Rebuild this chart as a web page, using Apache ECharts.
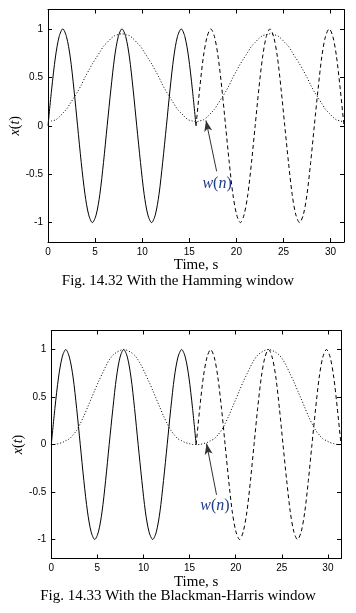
<!DOCTYPE html>
<html>
<head>
<meta charset="utf-8">
<script src="https://cdn.jsdelivr.net/npm/echarts@6/dist/echarts.min.js"></script>
<style>
html,body{margin:0;padding:0;background:#fff;}
#chart{width:356px;height:613px;}
</style>
</head>
<body>
<div id="chart"></div>
<script>
// time samples (s)
const tFirst = [0,0.39,0.79,1.18,1.57,1.96,2.36,2.75,3.14,3.53,3.93,4.32,4.71,5.11,5.50,5.89,6.28,6.68,7.07,7.46,7.85,8.25,8.64,9.03,9.42,9.82,10.21,10.60,11.00,11.39,11.78,12.17,12.57,12.96,13.35,13.74,14.14,14.53,14.92,15.32,15.71];
const tSecond = [15.71,16.10,16.49,16.89,17.28,17.67,18.06,18.46,18.85,19.24,19.63,20.03,20.42,20.81,21.21,21.60,21.99,22.38,22.78,23.17,23.56,23.95,24.35,24.74,25.13,25.53,25.92,26.31,26.70,27.10,27.49,27.88,28.27,28.67,29.06,29.45,29.85,30.24,30.63,31.02,31.42];
// signal x(t) over the record (solid) and its repetition (dashed)
const signalRecord = [0,0.38,0.71,0.92,1,0.92,0.71,0.38,0,-0.38,-0.71,-0.92,-1,-0.92,-0.71,-0.38,0,0.38,0.71,0.92,1,0.92,0.71,0.38,0,-0.38,-0.71,-0.92,-1,-0.92,-0.71,-0.38,0,0.38,0.71,0.92,1,0.92,0.71,0.38,0];
const signalRepeat = [0,0.38,0.71,0.92,1,0.92,0.71,0.38,0,-0.38,-0.71,-0.92,-1,-0.92,-0.71,-0.38,0,0.38,0.71,0.92,1,0.92,0.71,0.38,0,-0.38,-0.71,-0.92,-1,-0.92,-0.71,-0.38,0,0.38,0.71,0.92,1,0.92,0.71,0.38,0];
// windows w(n) (dotted), first and second record
const hammingFirst = [0.04,0.05,0.06,0.09,0.13,0.17,0.23,0.29,0.35,0.42,0.50,0.57,0.64,0.70,0.76,0.82,0.86,0.90,0.93,0.94,0.95,0.94,0.93,0.90,0.86,0.82,0.76,0.70,0.64,0.57,0.50,0.42,0.35,0.29,0.23,0.17,0.13,0.09,0.06,0.05,0.04];
const hammingSecond = [0.04,0.05,0.06,0.09,0.13,0.17,0.23,0.29,0.35,0.42,0.50,0.57,0.64,0.70,0.76,0.82,0.86,0.90,0.93,0.94,0.95,0.94,0.93,0.90,0.86,0.82,0.76,0.70,0.64,0.57,0.50,0.42,0.35,0.29,0.23,0.17,0.13,0.09,0.06,0.05,0.04];
const bhFirst = [0.00,0.00,0.01,0.02,0.04,0.06,0.10,0.15,0.22,0.30,0.39,0.48,0.57,0.66,0.74,0.82,0.89,0.94,0.97,0.99,1.00,0.99,0.97,0.94,0.89,0.82,0.74,0.66,0.57,0.48,0.39,0.30,0.22,0.15,0.10,0.06,0.04,0.02,0.01,0.00,0.00];
const bhSecond = [0.00,0.00,0.01,0.02,0.04,0.06,0.10,0.15,0.22,0.30,0.39,0.48,0.57,0.66,0.74,0.82,0.89,0.94,0.97,0.99,1.00,0.99,0.97,0.94,0.89,0.82,0.74,0.66,0.57,0.48,0.39,0.30,0.22,0.15,0.10,0.06,0.04,0.02,0.01,0.00,0.00];
// ticks
const xTicks = [0,5,10,15,20,25,30];
const yTicks = [-1,-0.5,0,0.5,1];
const xRange = [0, 31.42];
const yRange = [-1.2, 1.2];
// annotations (data coords): arrow tip, arrow tail, label
const annTop = {tip:[16.77,0.055], tail:[17.9,-0.47], label:[17.95,-0.6]};
const annBottom = {tip:[16.84,0.01], tail:[17.92,-0.53], label:[17.75,-0.65]};
const captions = ['Fig. 14.32 With the Hamming window', 'Fig. 14.33 With the Blackman-Harris window'];

const zip = (xs, ys) => xs.map((x, i) => [x, ys[i]]);
const SANS = 'Liberation Sans, Arial, sans-serif';
const SERIF = 'Liberation Serif, Times New Roman, serif';

function xAxes(g) {
  return [{
    gridIndex: g, type: 'value', min: xRange[0], max: xRange[1], position: 'bottom',
    axisLine: {show: true, onZero: false, lineStyle: {color: '#000', width: 1}},
    axisTick: {show: true, inside: true, length: 4, customValues: xTicks, lineStyle: {color: '#000'}},
    axisLabel: {show: true, customValues: xTicks, color: '#000', fontFamily: SANS, fontSize: 10, margin: 5},
    splitLine: {show: false},
    name: 'Time, s', nameLocation: 'middle', nameGap: 11,
    nameTextStyle: {color: '#000', fontFamily: SERIF, fontSize: 15}
  }, {
    gridIndex: g, type: 'value', min: xRange[0], max: xRange[1], position: 'top',
    axisLine: {show: true, onZero: false, lineStyle: {color: '#000', width: 1}},
    axisTick: {show: true, inside: true, length: 4, customValues: xTicks, lineStyle: {color: '#000'}},
    axisLabel: {show: false}, splitLine: {show: false}
  }];
}
function yAxes(g) {
  return [{
    gridIndex: g, type: 'value', min: yRange[0], max: yRange[1], position: 'left',
    axisLine: {show: true, onZero: false, lineStyle: {color: '#000', width: 1}},
    axisTick: {show: true, inside: true, length: 4, customValues: yTicks, lineStyle: {color: '#000'}},
    axisLabel: {show: true, customValues: yTicks, color: '#000', fontFamily: SANS, fontSize: 10, margin: 5},
    splitLine: {show: false},
    name: '{i|x}{p|(}{i|t}{p|)}', nameLocation: 'middle', nameGap: 26, nameRotate: 90, nameMoveOverlap: false,
    nameTextStyle: {rich: {
      i: {fontFamily: SERIF, fontStyle: 'italic', fontSize: 14, color: '#000'},
      p: {fontFamily: SERIF, fontSize: 14, color: '#000'}
    }}
  }, {
    gridIndex: g, type: 'value', min: yRange[0], max: yRange[1], position: 'right',
    axisLine: {show: true, onZero: false, lineStyle: {color: '#000', width: 1}},
    axisTick: {show: true, inside: true, length: 4, customValues: yTicks, lineStyle: {color: '#000'}},
    axisLabel: {show: false}, splitLine: {show: false}
  }];
}

function seriesFor(g, winFirst, winSecond, ann) {
  const xi = g * 2, yi = g * 2;
  const common = {type: 'line', xAxisIndex: xi, yAxisIndex: yi, showSymbol: false, symbol: 'none', silent: true, smooth: 0.3};
  return [
    Object.assign({}, common, {data: zip(tFirst, signalRecord), lineStyle: {color: '#000', width: 1}}),
    Object.assign({}, common, {data: zip(tSecond, signalRepeat), lineStyle: {color: '#000', width: 1, type: [4, 3]}}),
    Object.assign({}, common, {
      data: zip(tFirst, winFirst).concat(zip(tSecond.slice(1), winSecond.slice(1))),
      lineStyle: {color: '#000', width: 1, type: [1, 2]},
      markLine: {
        silent: true, animation: false,
        symbol: ['arrow', 'none'], symbolSize: [6, 11],
        lineStyle: {color: '#333', width: 1, type: 'solid'},
        label: {show: false},
        data: [[{coord: ann.tip}, {coord: ann.tail}]]
      },
      markPoint: {
        silent: true, animation: false,
        symbol: 'circle', symbolSize: 1, itemStyle: {color: 'rgba(0,0,0,0)'},
        label: {
          show: true, position: 'inside',
          formatter: '{i|w}{p|(}{i|n}{p|)}',
          rich: {
            i: {fontFamily: SERIF, fontStyle: 'italic', fontSize: 16, color: '#1d3a8a'},
            p: {fontFamily: SERIF, fontSize: 16, color: '#1d3a8a'}
          }
        },
        data: [{coord: ann.label}]
      }
    })
  ];
}

const chart = echarts.init(document.getElementById('chart'), null, {renderer: 'canvas'});
chart.setOption({
  animation: false,
  backgroundColor: '#fff',
  grid: [
    {left: 48, top: 9.5, width: 296, height: 232.5, containLabel: false, outerBoundsMode: 'none'},
    {left: 51.3, top: 330.5, width: 289.7, height: 228, containLabel: false, outerBoundsMode: 'none'}
  ],
  xAxis: xAxes(0).concat(xAxes(1)),
  yAxis: yAxes(0).concat(yAxes(1)),
  series: seriesFor(0, hammingFirst, hammingSecond, annTop).concat(seriesFor(1, bhFirst, bhSecond, annBottom)),
  graphic: [
    {type: 'text', left: 'center', top: 274, style: {text: captions[0], font: '15px ' + SERIF, fill: '#000'}},
    {type: 'text', left: 'center', top: 589, style: {text: captions[1], font: '15px ' + SERIF, fill: '#000'}}
  ]
});
</script>
</body>
</html>
